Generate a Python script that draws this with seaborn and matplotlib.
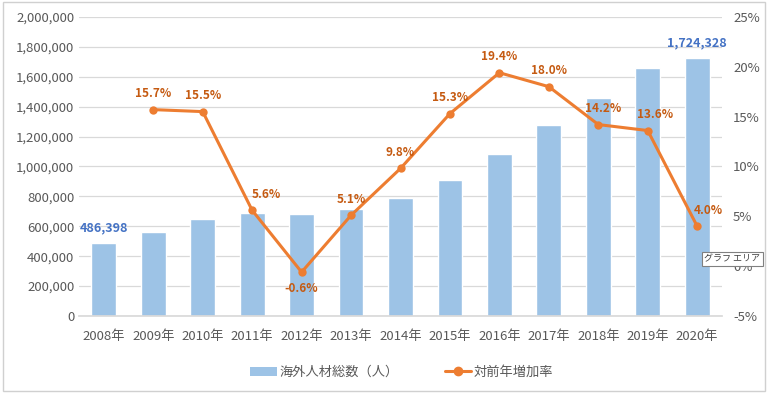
import numpy as np
import pandas as pd
import matplotlib
matplotlib.use("Agg")
import matplotlib.pyplot as plt
import seaborn as sb
from matplotlib.patches import Rectangle, Patch
from matplotlib.lines import Line2D
from matplotlib.ticker import FuncFormatter, MultipleLocator

years = ["2008年", "2009年", "2010年", "2011年", "2012年", "2013年", "2014年",
         "2015年", "2016年", "2017年", "2018年", "2019年", "2020年"]
workers = [486398, 562818, 649982, 686246, 682450, 717504, 787627,
           907896, 1083769, 1278670, 1460463, 1658804, 1724328]
growth = [np.nan, 15.7, 15.5, 5.6, -0.6, 5.1, 9.8, 15.3, 19.4, 18.0, 14.2, 13.6, 4.0]
bar_name = "海外人材総数（人）"
line_name = "対前年増加率"

df = pd.DataFrame({"year": years, "workers": workers, "growth": growth})
df["pos"] = np.arange(len(df))

sb.set_theme(style="white")
plt.rcParams['font.family'] = ['Noto Sans CJK JP', 'DejaVu Sans']

BAR = "#9DC3E6"
LINE = "#ED7D31"
TXT = "#595959"
GRID = "#D9D9D9"

fig = plt.figure(figsize=(7.68, 3.93), dpi=100)
ax = fig.add_axes([0.103, 0.196, 0.837, 0.761])

sb.barplot(data=df, x="year", y="workers", color=BAR, width=0.5,
           saturation=1, ax=ax, zorder=2)
ax.set_ylim(0, 2000000)
ax.set_xlim(-0.5, len(df) - 0.5)
ax.yaxis.set_major_locator(MultipleLocator(200000))
ax.yaxis.set_major_formatter(FuncFormatter(lambda v, p: f"{int(v):,}"))
ax.grid(axis="y", color=GRID, lw=0.9, zorder=0)
ax.set_axisbelow(True)
ax.set_xlabel("")
ax.set_ylabel("")
for s in ["top", "right", "left"]:
    ax.spines[s].set_visible(False)
ax.spines["bottom"].set_color(GRID)
ax.tick_params(axis="both", colors=TXT, labelsize=9.5, length=0)
ax.tick_params(axis="x", pad=10)

# labels on first and last bars
for i in [0, len(df) - 1]:
    ax.text(df["pos"][i], df["workers"][i] + 100000, f"{df['workers'][i]:,}",
            ha="center", va="center", color="#4472C4", fontsize=9,
            fontweight="bold", zorder=5)

ax2 = ax.twinx()
sb.lineplot(data=df.dropna(), x="pos", y="growth", color=LINE, lw=2.2,
            marker="o", markersize=6, markeredgewidth=0, ax=ax2, zorder=4)
ax2.set_ylim(-5, 25)
ax2.yaxis.set_major_locator(MultipleLocator(5))
ax2.yaxis.set_major_formatter(FuncFormatter(lambda v, p: f"{v:.0f}%"))
ax2.set_xlim(-0.5, len(df) - 0.5)
ax2.set_ylabel("")
ax2.set_xlabel("")
for s in ax2.spines.values():
    s.set_visible(False)
ax2.tick_params(axis="y", colors=TXT, labelsize=9.5, length=0, pad=8)
ax2.grid(False)

# label nudges, as Excel placed them
nudge = {3: 0.28, 10: 0.1, 11: 0.14, 12: 0.22}
for x, v in zip(df["pos"], df["growth"]):
    if np.isnan(v):
        continue
    dy = -1.6 if v < 0 else 1.6
    ax2.text(x + nudge.get(x, 0.0), v + dy, f"{v:.1f}%", ha="center", va="center",
             color="#C55A11", fontsize=8.5, fontweight="bold", zorder=6)

handles = [Patch(facecolor=BAR, edgecolor="none"),
           Line2D([0], [0], color=LINE, lw=2.2, marker="o", markersize=6)]
fig.legend(handles, [bar_name, line_name], loc="center",
           bbox_to_anchor=(0.523, 0.052), ncol=2, frameon=False,
           fontsize=9.5, labelcolor=TXT, columnspacing=3.5, handlelength=2.0,
           handletextpad=0.2)

# Excel tooltip
fig.text(0.917, 0.341, "グラフ エリア", fontsize=6.5, color="#404040",
         ha="left", va="center",
         bbox=dict(boxstyle="square,pad=0.25", fc="white", ec="#808080", lw=0.8))

fig.patches.append(Rectangle((0.004, 0.006), 0.992, 0.988, transform=fig.transFigure,
                             fill=False, ec="#D0D0D0", lw=1))

fig.savefig("out.png", dpi=100)
